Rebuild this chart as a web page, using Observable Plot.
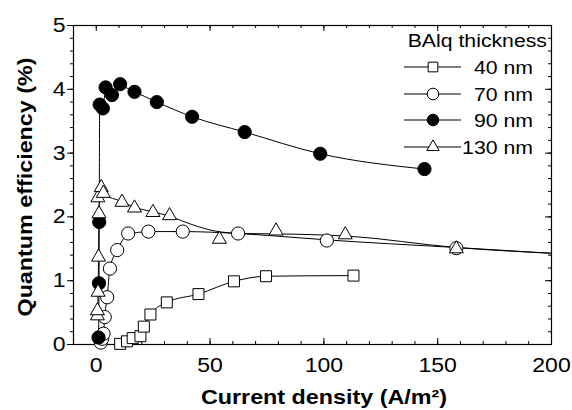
<!DOCTYPE html>
<html><head><meta charset="utf-8">
<script src="https://cdn.jsdelivr.net/npm/d3@7"></script>
<script src="https://cdn.jsdelivr.net/npm/@observablehq/plot@0.6"></script>
<style>
body{margin:0;background:#fff;}
#chart{position:relative;width:572px;height:410px;}
</style>
</head><body><div id="chart"></div>
<script>
// ---- data ----
const seriesNames = ["40 nm", "70 nm", "90 nm", "130 nm"];
const legendTitle = "BAlq thickness";
const xLabel = "Current density (A/m²)";
const yLabel = "Quantum efficiency (%)";
const xTicks = [0, 50, 100, 150, 200];
const yTicks = [0, 1, 2, 3, 4, 5];

const x40 = [10.5, 13.5, 16, 19.4, 20.9, 23.8, 31, 44.9, 60.5, 74.6, 113];
const y40 = [0.01, 0.05, 0.10, 0.13, 0.28, 0.47, 0.66, 0.79, 0.99, 1.07, 1.08];

const x70 = [2.0, 2.6, 3.2, 3.7, 4.8, 6.0, 9.2, 14.0, 22.9, 38, 62.3, 101.3, 158.2];
const y70 = [0.03, 0.09, 0.17, 0.43, 0.74, 1.19, 1.48, 1.74, 1.77, 1.77, 1.74, 1.63, 1.51];

const x90 = [1.0, 1.2, 1.3, 1.5, 2.9, 4.1, 6.9, 10.5, 16.8, 26.6, 42.1, 65.2, 98.4, 144.2];
const y90 = [0.11, 0.96, 1.92, 3.76, 3.70, 4.03, 3.91, 4.08, 3.96, 3.80, 3.57, 3.33, 2.99, 2.75];

const x130 = [0.5, 0.5, 0.8, 1.0, 1.2, 0.7, 2.2, 3.1, 11.3, 16.8, 24.9, 32.2, 54.1, 79, 109.4, 158.2];
const y130 = [0.45, 0.53, 0.82, 1.37, 2.05, 2.30, 2.46, 2.37, 2.23, 2.14, 2.07, 2.02, 1.65, 1.78, 1.72, 1.50];

// fitted curves as drawn in the reference
const fit40X = [10.2, 13.5, 16, 19.4, 20.9, 23.8, 31, 44.9, 60.5, 74.6, 113];
const fit40Y = [0.0, 0.05, 0.10, 0.13, 0.28, 0.47, 0.66, 0.79, 0.99, 1.07, 1.08];
const fit70X = [2.0, 2.6, 3.2, 3.7, 4.8, 6.0, 9.2, 14.0, 22.9, 38, 62.3, 90, 101.3, 158.2, 200];
const fit70Y = [0.03, 0.09, 0.17, 0.43, 0.74, 1.19, 1.48, 1.72, 1.77, 1.77, 1.74, 1.67, 1.64, 1.52, 1.43];
const fit90X = [1.0, 1.2, 1.3, 1.5, 2.9, 4.1, 6.9, 10.5, 16.8, 26.6, 42.1, 65.2, 98.4, 144.2];
const fit90Y = [0.11, 0.96, 1.92, 3.76, 3.70, 4.00, 3.95, 4.05, 3.96, 3.80, 3.57, 3.33, 2.99, 2.75];
const fit130X = [0.5, 0.8, 1.0, 1.2, 1.5, 2.2, 3.1, 11.3, 16.8, 24.9, 32.2, 42, 52, 64, 86, 110, 158.2, 200];
const fit130Y = [0.45, 0.80, 1.37, 2.05, 2.30, 2.44, 2.37, 2.24, 2.15, 2.08, 2.01, 1.88, 1.78, 1.74, 1.73, 1.70, 1.52, 1.43];

// ---- build tables ----
const pts = (xs, ys) => xs.map((x, i) => ({x, y: ys[i]}));
const d40 = pts(x40, y40), d70 = pts(x70, y70), d90 = pts(x90, y90), d130 = pts(x130, y130);
const f40 = pts(fit40X, fit40Y), f70 = pts(fit70X, fit70Y), f90 = pts(fit90X, fit90Y), f130 = pts(fit130X, fit130Y);

const W = 572, H = 410, mL = 73, mR = 21, mT = 25, mB = 66;
const pW = W - mL - mR, pH = H - mT - mB;
const xMinor = d3.range(0, 201, 10);
const yMinor = d3.range(0, 5.001, 0.2).map(v => +v.toFixed(1));

const styles = [
  {symbol: "square", r: 6.2, fill: "white"},
  {symbol: "circle", r: 6.6, fill: "white"},
  {symbol: "circle", r: 6.6, fill: "black"},
  {symbol: "triangle", r: 5.2, fill: "white"}
];
const dataSets = [d40, d70, d90, d130];
const fits = [f40, f70, f90, f130];

const chart = Plot.plot({
  width: W, height: H,
  marginLeft: mL, marginRight: mR, marginTop: mT, marginBottom: mB,
  style: {fontFamily: "'Liberation Sans', Arial, sans-serif", fontSize: "20px", color: "black", background: "white"},
  x: {domain: [-10, 200]},
  y: {domain: [0, 5]},
  marks: [
    // left axis (outward ticks)
    Plot.axisY(yTicks, {tickSize: 6, tickPadding: 2, label: null, fontSize: 20, tickFormat: d3.format("d")}),
    Plot.tickY(yMinor, {y: d => d, insetLeft: -3, insetRight: pW, stroke: "black"}),
    // bottom axis labels + inward ticks
    Plot.axisX(xTicks, {tickSize: 0, tickPadding: 13, label: null, fontSize: 20, tickFormat: d3.format("d")}),
    Plot.tickX(xTicks, {x: d => d, insetTop: pH - 6, stroke: "black"}),
    Plot.tickX(xMinor, {x: d => d, insetTop: pH - 3, stroke: "black"}),
    // top mirror ticks
    Plot.tickX(xTicks, {x: d => d, insetBottom: pH - 6, stroke: "black"}),
    Plot.tickX(xMinor, {x: d => d, insetBottom: pH - 3, stroke: "black"}),
    // right mirror ticks
    Plot.tickY(yTicks, {y: d => d, insetLeft: pW - 6, stroke: "black"}),
    Plot.tickY(yMinor, {y: d => d, insetLeft: pW - 3, stroke: "black"}),
    Plot.frame({stroke: "black", strokeWidth: 1.2}),
    // lines
    ...fits.map(f => Plot.line(f, {x: "x", y: "y", stroke: "black", strokeWidth: 1, curve: "monotone-x"})),
    // markers
    ...dataSets.map((d, i) => Plot.dot(d, {x: "x", y: "y", symbol: styles[i].symbol, r: styles[i].r,
      fill: styles[i].fill, stroke: "black", strokeWidth: 1}))
  ]
});
document.getElementById("chart").appendChild(chart);

const svg = d3.select(chart);
const FONT = "'Liberation Sans', Arial, sans-serif";

// axis titles
svg.append("text").attr("class", "xt")
  .attr("x", 324).attr("y", 404).attr("text-anchor", "middle")
  .attr("font-family", FONT).attr("font-weight", "bold").attr("font-size", 21)
  .text(xLabel);
svg.append("text").attr("class", "yt")
  .attr("transform", "translate(32,187) rotate(-90)").attr("text-anchor", "middle")
  .attr("font-family", FONT).attr("font-weight", "bold").attr("font-size", 21)
  .text(yLabel);

// legend
const lg = svg.append("g").attr("class", "lg").attr("font-family", FONT);
lg.append("text").attr("class", "lt").attr("x", 547).attr("y", 47).attr("text-anchor", "end")
  .attr("font-size", 18).text(legendTitle);
const rowY = [67, 94, 120, 147];
const symMap = {square: d3.symbolSquare, circle: d3.symbolCircle, triangle: d3.symbolTriangle};
seriesNames.forEach((name, i) => {
  const g = lg.append("g");
  g.append("line").attr("x1", 404).attr("x2", 461).attr("y1", rowY[i]).attr("y2", rowY[i])
    .attr("stroke", "black").attr("stroke-width", 1);
  const r = styles[i].r * 0.88;
  g.append("path").attr("d", d3.symbol(symMap[styles[i].symbol], Math.PI * r * r)())
    .attr("transform", `translate(433,${rowY[i]})`)
    .attr("fill", styles[i].fill).attr("stroke", "black").attr("stroke-width", 1);
  g.append("text").attr("class", "lt").attr("x", 533).attr("y", rowY[i] + 6.5).attr("text-anchor", "end")
    .attr("font-size", 18).text(name);
});

// horizontal stretch of lettering, as in the reference
function stretch(sel, k) {
  sel.each(function () {
    const L = this.getComputedTextLength();
    if (L > 0) {
      this.setAttribute("textLength", (L * k).toFixed(1));
      this.setAttribute("lengthAdjust", "spacingAndGlyphs");
    }
  });
}
stretch(svg.selectAll("[aria-label$='tick label'] text"), 1.15);
stretch(svg.selectAll("text.lt"), 1.18);
stretch(svg.selectAll("text.xt, text.yt"), 1.11);
</script>
</body></html>
